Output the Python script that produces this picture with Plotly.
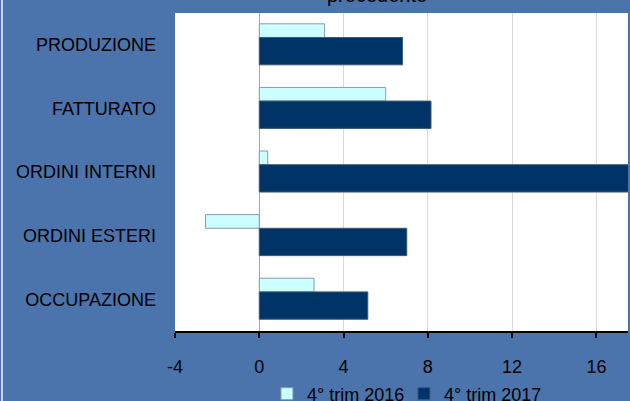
import plotly.graph_objects as go

# dati: variazioni % sullo stesso trimestre dell'anno precedente
categorie = ["PRODUZIONE", "FATTURATO", "ORDINI INTERNI", "ORDINI ESTERI", "OCCUPAZIONE"]
trim_2016 = [3.1, 6.0, 0.4, -2.55, 2.6]
trim_2017 = [6.8, 8.15, 17.6, 7.0, 5.15]
tick_vals = [-4, 0, 4, 8, 12, 16]
tick_text = ["-4", "0", "4", "8", "12", "16"]

font = "Liberation Sans, Arial, sans-serif"
blu = "#4a74ab"

fig = go.Figure()

fig.add_trace(go.Bar(
    y=categorie, x=trim_2016, orientation="h", name="4° trim 2016",
    width=0.215, offset=-0.33,
    marker=dict(color="#ccffff", line=dict(color="#8a9aa8", width=1)),
))
fig.add_trace(go.Bar(
    y=categorie, x=trim_2017, orientation="h", name="4° trim 2017",
    width=0.43, offset=-0.115,
    marker=dict(color="#003366", line=dict(color="#3d5a7a", width=1)),
))

fig.update_layout(
    width=630, height=401,
    margin=dict(l=175, r=2, t=13, b=70, autoexpand=False),
    paper_bgcolor=blu, plot_bgcolor="white",
    barmode="overlay",
    font=dict(family=font, color="black", size=18),
    showlegend=True,
    legend=dict(orientation="h", x=0.203, xanchor="left", y=-0.198, yanchor="middle",
                font=dict(size=18), bgcolor="rgba(0,0,0,0)", traceorder="normal",
                itemwidth=30, entrywidth=92),
    annotations=[dict(
        text="precedente",
        xref="paper", yref="paper", x=0.331, y=1.0, yanchor="bottom", yshift=5,
        showarrow=False, font=dict(size=20, family=font),
    )],
    shapes=[dict(type="rect", xref="paper", yref="paper", x0=-0.3841, x1=-0.3797,
                 y0=-0.3, y1=1.1, line_width=0, fillcolor="#c8d4e6")],
)

fig.update_xaxes(
    range=[-4, 17.5], tickvals=tick_vals, ticktext=tick_text,
    showgrid=True, gridcolor="#d9d9d9",
    zeroline=True, zerolinecolor="#a6a6a6", zerolinewidth=1,
    showline=True, linecolor="black", linewidth=2, ticks="outside",
    ticklen=5, tickwidth=2, tickcolor="black", ticklabelstandoff=13,
    tickfont=dict(size=18),
)
fig.update_yaxes(
    categoryorder="array", categoryarray=categorie, autorange="reversed",
    showgrid=False, showline=False, ticks="", ticklabelstandoff=18,
    tickfont=dict(size=18), automargin=False,
)

fig.write_html("out.html", config={"displayModeBar": False},
               post_script="document.body.style.margin='0';")
